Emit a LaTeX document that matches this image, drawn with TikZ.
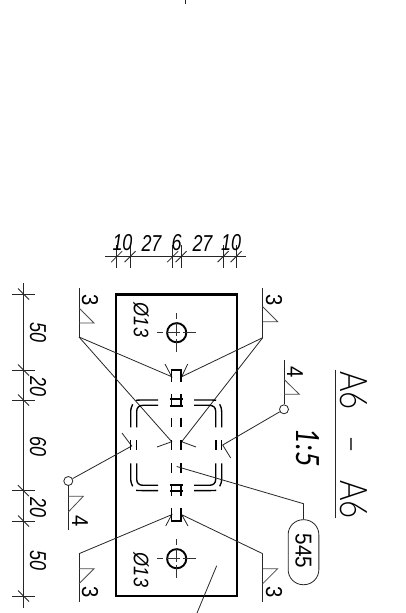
\documentclass[tikz,border=0pt]{standalone}
\usepackage{fontspec}
\setmainfont{Liberation Sans}
\newfontfamily\lightfont{Lato Light}
\newfontfamily\regfont{Lato}
\tikzset{
  thin line/.style={line width=0.8pt,black!85},
  tri line/.style={line width=0.8pt,black!70},
  seam/.style={line width=1.35pt,black,line cap=butt},
  plate/.style={line width=2.2pt,black},
  centre/.style={line width=0.8pt,black!80},
  lab/.style={inner sep=0,outer sep=0,font=\fontsize{23}{23}\selectfont},
  dimv/.style={lab,rotate=-90,xscale=.78,font=\fontsize{23}{23}\selectfont\itshape},
  dimh/.style={lab,xscale=.78,font=\fontsize{23}{23}\selectfont\itshape},
  weldtxt/.style={lab,rotate=-90,xscale=.88},
  holetxt/.style={lab,rotate=-90,xscale=.86,font=\fontsize{21}{21}\selectfont\itshape},
}
\begin{document}
\begin{tikzpicture}[x=1pt,y=-1pt]
\useasboundingbox (0,0) rectangle (406,613);
\fill[white] (0,0) rectangle (406,613);
% stray mark
\draw[thin line] (185,0) -- (185,3.5);
% plate
\draw[plate] (116,294.5) rectangle (237,596);
% holes
\foreach \cy in {332.7,558.7}{
  \draw[line width=1.9pt] (176.7,\cy) circle (9.6);
  \draw[centre,dash pattern=on 6pt off 3pt on 14pt off 3pt on 14pt off 3pt on 6pt] (157,\cy) -- (196,\cy);
  \draw[centre,dash pattern=on 6pt off 3pt on 14pt off 3pt on 14pt off 3pt on 6pt] (176.7,\cy-19.5) -- (176.7,\cy+19.5);
}
\node[holetxt] at (141,320) {Ø13};
\node[holetxt] at (141,570) {Ø13};
% top dimension
\draw[thin line] (105,256.7) -- (246,256.7);
\foreach \x in {116.7,130,172.7,181,223,236}{
  \draw[thin line] (\x,245) -- (\x,268);
  \draw[thin line] (\x-5.5,262.2) -- (\x+5.5,251.2);
}
\node[dimh] at (122.5,243) {10};
\node[dimh] at (151.5,243) {27};
\node[dimh] at (176.7,243) {6};
\node[dimh] at (202.5,243) {27};
\node[dimh] at (231,243) {10};
% left dimension
\draw[thin line] (23.5,283) -- (23.5,608);
\foreach \y in {294,370,400,490.7,521,596}{
  \draw[thin line] (12,\y) -- (35,\y);
  \draw[thin line] (18,\y-5.5) -- (29,\y+5.5);
}
\node[dimv] at (38,332.5) {50};
\node[dimv] at (38,386) {20};
\node[dimv] at (38,446) {60};
\node[dimv] at (38,507) {20};
\node[dimv] at (38,560) {50};
% weld symbols
\coordinate (wa) at (79,337);
\coordinate (wb) at (262.7,337.7);
\coordinate (wc) at (79,553.7);
\coordinate (wd) at (262.7,553.7);
\draw[thin line] (79,288) -- (wa);
\draw[tri line] (79,308) -- (94,323) -- (79,323);
\draw[thin line] (262.7,288) -- (wb);
\draw[tri line] (262.7,306.7) -- (277.7,321.7) -- (262.7,321.7);
\draw[thin line] (wc) -- (79,602);
\draw[tri line] (79,583.7) -- (94,568.7) -- (79,568.7);
\draw[thin line] (wd) -- (262.7,602);
\draw[tri line] (262.7,583.7) -- (277.7,568.7) -- (262.7,568.7);
\node[weldtxt] at (90,300) {3};
\node[weldtxt] at (274,300) {3};
\node[weldtxt] at (90,592) {3};
\node[weldtxt] at (274,592) {3};
% fillet 4 symbols
\node[draw,circle,thin line,minimum size=9pt,inner sep=0] (ca) at (68.3,481) {};
\node[draw,circle,thin line,minimum size=9pt,inner sep=0] (cb) at (284,409.3) {};
\draw[thin line] (ca.south) -- (68.3,530);
\draw[tri line] (68.3,512) -- (83.3,496.3) -- (68.3,496.3);
\draw[thin line] (cb.north) -- (284,360);
\draw[tri line] (284,379.3) -- (299.3,394.3) -- (284,394.3);
\node[weldtxt] at (80,521) {4};
\node[weldtxt] at (295,372.5) {4};
% leaders with barbs
\draw[thin line] (wa) -- (171.7,376.7) -- (165,364);
\draw[thin line] (wa) -- (171.7,441.7) -- (157,447);
\draw[thin line] (wb) -- (181.7,376.7) -- (187.7,364);
\draw[thin line] (wb) -- (181.7,441.7) -- (196,447);
\draw[thin line] (wc) -- (171.7,514.7) -- (165.7,526);
\draw[thin line] (wd) -- (181.7,514.7) -- (188,526);
\draw[thin line] (ca) -- (131.7,446) -- (122,433);
\draw[thin line] (cb) -- (222.7,445) -- (230.7,458);
% seams: centre web
\draw[seam] (171.7,381.7) -- (171.7,370) -- (181,370) -- (181,381.7);
\draw[seam] (171.7,508) -- (171.7,521) -- (181,521) -- (181,508);
\foreach \a/\b in {394/406,417.7/426.7,440/450,463/472.7,484/495.7}{
  \draw[seam] (171.7,\a) -- (171.7,\b);
  \draw[seam] (181,\a) -- (181,\b);
}
\draw[seam,line width=1.7pt] (170,399.3) -- (182.7,399.3) (170,406) -- (182.7,406);
\draw[seam,line width=1.7pt] (170,485) -- (182.7,485) (170,490.7) -- (182.7,490.7);
% seams: double dashed ring
\foreach \sx/\sy in {1/1,-1/1,1/-1,-1/-1}{
  \begin{scope}[shift={(176.2,445.3)},xscale=\sx,yscale=\sy]
    \draw[seam] (-45.5,-18) -- (-45.5,-33) .. controls (-45.5,-37) and (-44.5,-39) .. (-43.5,-41);
    \draw[seam] (-40,-45) .. controls (-38,-45.3) and (-37,-45.3) .. (-18,-45.3);
    \draw[seam] (-39.5,-18) -- (-39.5,-34) .. controls (-39.5,-38) and (-37,-40) .. (-33,-40) -- (-18,-40);
  \end{scope}
}
\foreach \x in {130.7,136.7,216,221.7}{
  \draw[seam] (\x,440) -- (\x,450);
}
% position number
\node[draw,thin line,rounded corners=15pt,minimum width=30.7pt,minimum height=65pt,inner sep=0] (pos) at (303.5,552.2) {};
\node[lab,rotate=-90,xscale=.9] (postxt) at (303.5,551) {545};
\coordinate (posk) at (303.5,503.7);
\draw[thin line] (pos.north) -- (posk) -- (176.7,466.5);
% bottom leader
\draw[thin line] (216.7,565.7) -- (197,613);
% title
\node[lab,rotate=-90,xscale=.82,font=\fontsize{38}{38}\lightfont] at (354,445) {A6\hspace{32pt}–\hspace{32pt}A6};
\draw[thin line] (335,370) -- (335,518);
\node[lab,rotate=-90,xscale=.85,font=\fontsize{32}{32}\regfont\itshape] at (308,448) {1:5};
\end{tikzpicture}
\end{document}
